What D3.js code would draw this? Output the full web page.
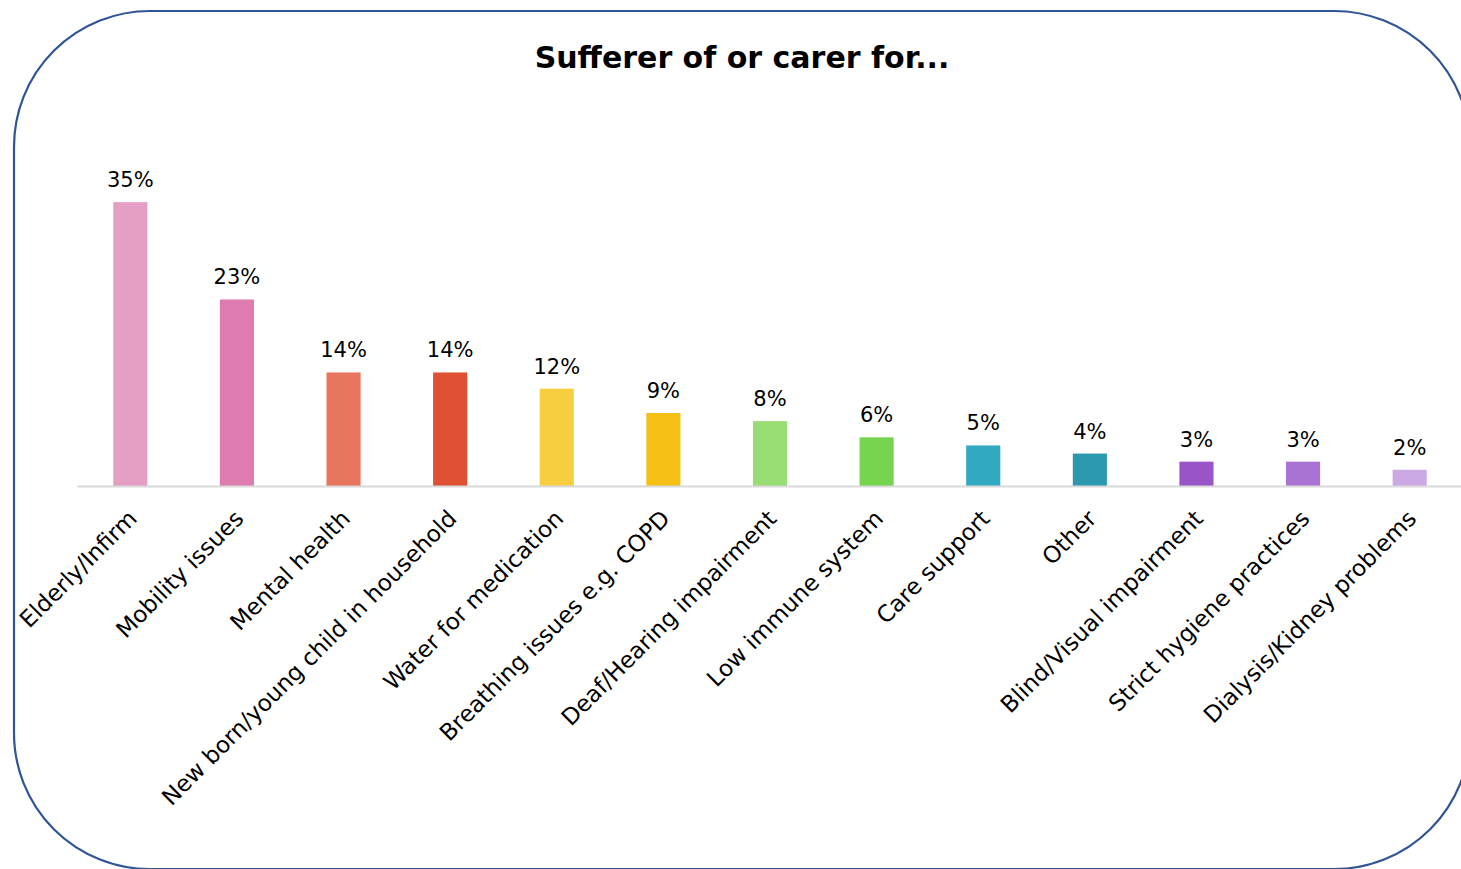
<!DOCTYPE html>
<html>
<head>
<meta charset="utf-8">
<script src="https://cdn.jsdelivr.net/npm/d3@7"></script>
<style>
  html, body { margin: 0; padding: 0; background: #fff; }
  svg { display: block; }
</style>
</head>
<body>
<svg id="chart" width="1461" height="869"></svg>
<script>
// Share of respondents who suffer from, or care for someone with, each condition
const categories = [
  "Elderly/Infirm",
  "Mobility issues",
  "Mental health",
  "New born/young child in household",
  "Water for medication",
  "Breathing issues e.g. COPD",
  "Deaf/Hearing impairment",
  "Low immune system",
  "Care support",
  "Other",
  "Blind/Visual impairment",
  "Strict hygiene practices",
  "Dialysis/Kidney problems"
];
const values = [35, 23, 14, 14, 12, 9, 8, 6, 5, 4, 3, 3, 2];
const barColors = [
  "#E59EC4", "#DE7CAF", "#E8755D", "#E05033", "#F8CE41", "#F6BF14",
  "#98DD74", "#77D44E", "#31A9C1", "#2C98AE", "#9954C7", "#A973D3", "#CCA9E4"
];
const title = "Sufferer of or carer for...";

const labelFont = "'DejaVu Sans', 'Noto Sans', sans-serif";
const svg = d3.select("#chart");

// rounded frame around the chart area
svg.append("rect")
  .attr("x", 14).attr("y", 11)
  .attr("width", 1456).attr("height", 858)
  .attr("rx", 136).attr("ry", 136)
  .attr("fill", "#fff")
  .attr("stroke", "#2F5597")
  .attr("stroke-width", 2.2);

svg.append("text")
  .attr("x", 742).attr("y", 68)
  .attr("text-anchor", "middle")
  .attr("font-family", labelFont)
  .attr("font-weight", "bold")
  .attr("font-size", 30)
  .attr("fill", "#000")
  .text(title);

const baseY = 486;
const x = d3.scaleBand()
  .domain(categories)
  .range([77, 1463])
  .paddingInner(0.68)
  .paddingOuter(0.34);

const y = d3.scaleLinear()
  .domain([0, 40])
  .range([baseY, baseY - 324.4]);

// bars
svg.append("g")
  .selectAll("rect")
  .data(categories)
  .join("rect")
  .attr("x", d => x(d))
  .attr("width", x.bandwidth())
  .attr("y", (d, i) => y(values[i]))
  .attr("height", (d, i) => y(0) - y(values[i]))
  .attr("fill", (d, i) => barColors[i]);

// category axis: baseline only, rotated labels
const axis = svg.append("g")
  .attr("transform", `translate(0,${baseY})`)
  .call(d3.axisBottom(x).tickSize(0).tickPadding(0));
axis.select(".domain")
  .attr("stroke", "#D9D9D9")
  .attr("stroke-width", 2);
axis.selectAll(".tick text")
  .attr("font-family", labelFont)
  .attr("font-size", 23)
  .attr("fill", "#000")
  .attr("text-anchor", "end")
  .attr("dy", 0)
  .attr("transform", "translate(8,34) rotate(-45)");

// value labels
svg.append("g")
  .selectAll("text")
  .data(categories)
  .join("text")
  .attr("x", d => x(d) + x.bandwidth() / 2)
  .attr("y", (d, i) => y(values[i]) - 15)
  .attr("text-anchor", "middle")
  .attr("font-family", labelFont)
  .attr("font-size", 21)
  .attr("fill", "#000")
  .text((d, i) => values[i] + "%");
</script>
</body>
</html>
